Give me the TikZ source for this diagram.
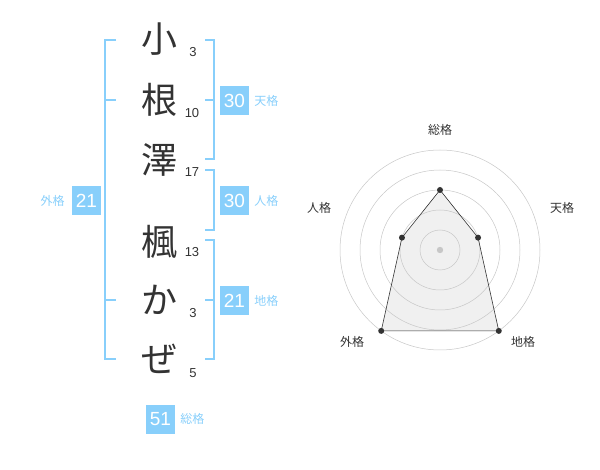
\documentclass[tikz,border=0pt]{standalone}
\usepackage{fontspec}
\setmainfont{Noto Sans CJK JP}
\newfontfamily\numfont{Liberation Sans}
\usepackage[dvipsnames]{xcolor}
\usetikzlibrary{positioning,calc}
\definecolor{kakublue}{HTML}{88CFFB}
\definecolor{inkgray}{HTML}{333333}
\tikzset{
    kanji/.style={font=\fontsize{36}{36}\selectfont, text=inkgray, inner sep=0pt},
    strokes/.style={font=\numfont\fontsize{13}{13}\selectfont, text=inkgray, inner sep=0pt},
    kakubox/.style={fill=kakublue, text=white, minimum width=29pt, minimum height=29pt,
        inner sep=0pt, font=\numfont\fontsize{19}{19}\selectfont},
    kakulabel/.style={text=kakublue, font=\fontsize{12}{12}\selectfont, inner sep=0pt},
    bracket/.style={draw=kakublue, line width=1.6pt},
    ring/.style={draw=black!22, line width=.5pt},
    axislabel/.style={text=inkgray, font=\fontsize{12}{12}\selectfont, inner sep=0pt}
}
\begin{document}
\begin{tikzpicture}[x=1pt,y=-1pt]
    \useasboundingbox (0,0) rectangle (600,470);
    % name and stroke counts
    \node[kanji] (c1) at (159,39) {小};
    \node[kanji] (c2) at (159,100) {根};
    \node[kanji] (c3) at (159,160) {澤};
    \node[kanji] (c4) at (159,242) {楓};
    \node[kanji] (c5) at (159,300) {か};
    \node[kanji] (c6) at (159,359) {ぜ};
    \node[strokes] (s1) at (193,52) {3};
    \node[strokes] (s2) at (192,113) {10};
    \node[strokes] (s3) at (192,172) {17};
    \node[strokes] (s4) at (192,252) {13};
    \node[strokes] (s5) at (193,313) {3};
    \node[strokes] (s6) at (193,373) {5};
    % brackets
    \draw[bracket] (116,40) -- (105,40) -- (105,359) -- (116,359);
    \draw[bracket] (105,100) -- (116,100);
    \draw[bracket] (105,300) -- (116,300);
    \draw[bracket] (205,40) -- (214,40) -- (214,159) -- (205,159);
    \draw[bracket] (214,100) -- (205,100);
    \draw[bracket] (205,170) -- (214,170) -- (214,230) -- (205,230);
    \draw[bracket] (205,240) -- (214,240) -- (214,359) -- (205,359);
    \draw[bracket] (214,300) -- (205,300);
    % boxes
    \node[kakubox] (gai) at (86.5,200.5) {21};
    \node[kakulabel, left=7pt of gai] (gail) {外格};
    \node[kakubox] (ten) at (234.5,100.5) {30};
    \node[kakulabel, right=5pt of ten] (tenl) {天格};
    \node[kakubox] (jin) at (234.5,200.5) {30};
    \node[kakulabel, right=5pt of jin] (jinl) {人格};
    \node[kakubox] (chi) at (234.5,300.5) {21};
    \node[kakulabel, right=5pt of chi] (chil) {地格};
    \node[kakubox] (sou) at (160.5,419) {51};
    \node[kakulabel, right=5pt of sou] (soul) {総格};
    % radar
    \coordinate (o) at (440,250);
    \coordinate (p1) at ($(o)+(-90:60)$);
    \coordinate (p2) at ($(o)+(-18:40)$);
    \coordinate (p3) at ($(o)+(54:100)$);
    \coordinate (p4) at ($(o)+(126:100)$);
    \coordinate (p5) at ($(o)+(198:40)$);
    \fill[black!6] (p1) -- (p2) -- (p3) -- (p4) -- (p5) -- cycle;
    \foreach \r in {20,40,60,80,100}
        \draw[ring] (o) circle (\r);
    \draw[inkgray, line width=.6pt] (p1) -- (p2) -- (p3) -- (p4) -- (p5) -- cycle;
    \foreach \p in {p1,p2,p3,p4,p5}
        \fill[inkgray] (\p) circle (3);
    \fill[black!22] (o) circle (3.2);
    \node[axislabel] (a1) at (440,130) {総格};
    \node[axislabel] (a2) at (562,208) {天格};
    \node[axislabel] (a3) at (523,342) {地格};
    \node[axislabel] (a4) at (352,342) {外格};
    \node[axislabel] (a5) at (319,208) {人格};
\end{tikzpicture}
\end{document}
